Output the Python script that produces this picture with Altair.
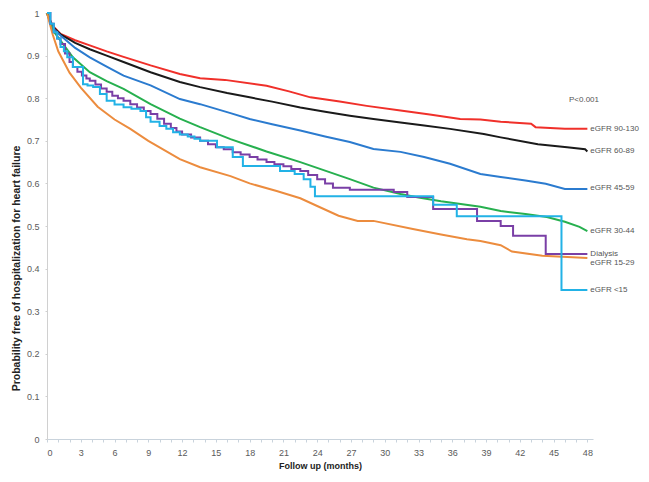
import altair as alt
import pandas as pd

# ---- data (months, survival probability) ----
series_names = ["eGFR 90-130", "eGFR 60-89", "eGFR 45-59", "eGFR 30-44",
                "eGFR 15-29", "Dialysis", "eGFR <15"]
series_colors = ["#f0302a", "#1a1a1a", "#2b7bcf", "#27b04f",
                 "#ec8c3e", "#7a3fa6", "#22b2e6"]

red_m = [0, 0.5, 1.2, 2.5, 3.8, 5.3, 6.8, 9.2, 11.8, 13.6, 15.8, 19.5, 21.5, 23.4, 26, 28.4,
         31.4, 34, 36.7, 38.5, 40.3, 43.0, 43.4, 46, 48]
red_v = [1, 0.97, 0.951, 0.936, 0.924, 0.91, 0.897, 0.877, 0.857, 0.847, 0.843, 0.829, 0.816,
         0.802, 0.792, 0.782, 0.771, 0.762, 0.751, 0.75, 0.745, 0.74, 0.732, 0.728, 0.728]

black_m = [0, 0.5, 1.2, 2.5, 3.8, 5.3, 6.8, 9.2, 11.8, 13.6, 16, 18, 20, 22.5, 24.7, 26.9, 29,
           31.4, 33.5, 35.8, 38.8, 40.3, 43.6, 46.2, 47.8, 48]
black_v = [1, 0.968, 0.95, 0.93, 0.915, 0.9, 0.885, 0.861, 0.838, 0.826, 0.812, 0.802, 0.792,
           0.778, 0.768, 0.759, 0.751, 0.743, 0.736, 0.728, 0.716, 0.708, 0.692, 0.685, 0.68, 0.675]

blue_m = [0, 0.5, 1.2, 2.5, 3.8, 5.3, 6.8, 9.2, 11.8, 13.6, 16.3, 18, 20, 22.5, 24.7, 26.9,
          29, 31.4, 33.5, 35.8, 38.5, 40.3, 42.5, 44.3, 46, 48]
blue_v = [1, 0.965, 0.947, 0.918, 0.896, 0.874, 0.853, 0.83, 0.798, 0.786, 0.765, 0.751, 0.739,
          0.724, 0.71, 0.697, 0.681, 0.674, 0.662, 0.646, 0.622, 0.615, 0.607, 0.599, 0.587, 0.587]

green_m = [0, 0.5, 1.2, 2.3, 3.8, 5.3, 6.8, 9.2, 11.8, 13.6, 16.3, 19.5, 22.5, 24.7, 26.9, 29,
           31.4, 33, 35, 38.5, 40.3, 42.5, 44.4, 46, 47.3, 48]
green_v = [1, 0.96, 0.935, 0.896, 0.861, 0.84, 0.822, 0.786, 0.752, 0.732, 0.704, 0.675, 0.65,
           0.63, 0.61, 0.59, 0.575, 0.567, 0.558, 0.545, 0.535, 0.528, 0.521, 0.51, 0.498, 0.488]

orange_m = [0, 0.5, 1, 2, 3, 4.5, 6, 7.4, 9, 11.8, 13.6, 16.3, 18, 20.4, 22.5, 24, 25.9, 27.6,
            29, 32.5, 35, 37.3, 38.5, 40.3, 41.3, 44, 48]
orange_v = [1, 0.95, 0.91, 0.86, 0.825, 0.78, 0.75, 0.728, 0.7, 0.657, 0.638, 0.617, 0.6,
            0.582, 0.565, 0.547, 0.524, 0.512, 0.512, 0.493, 0.48, 0.469, 0.465, 0.455, 0.44,
            0.43, 0.425]

dial_m = [0, 0.3, 0.6, 0.9, 1.2, 1.6, 2.0, 2.3, 2.7, 3.1, 3.5, 3.8, 4.3, 4.8, 5.3, 5.8, 6.3,
          6.8, 7.4, 8, 8.6, 9.2, 9.8, 10.4, 11, 11.5, 12, 12.8, 13.6, 14.3, 15, 15.7, 16.5,
          17.2, 18, 18.7, 19.5, 20.2, 21, 21.7, 22.5, 23.2, 24, 24.7, 25.4, 26.9, 30.8, 32,
          34.3, 38.2, 40.3, 41.4, 44.3, 48]
dial_v = [1, 0.975, 0.955, 0.94, 0.927, 0.905, 0.885, 0.873, 0.862, 0.853, 0.846, 0.841,
          0.832, 0.823, 0.815, 0.806, 0.8, 0.794, 0.786, 0.778, 0.77, 0.763, 0.752, 0.74,
          0.73, 0.722, 0.715, 0.708, 0.7, 0.692, 0.685, 0.68, 0.673, 0.668, 0.662, 0.656,
          0.65, 0.645, 0.64, 0.634, 0.629, 0.62, 0.61, 0.6, 0.59, 0.585, 0.58, 0.568, 0.54,
          0.512, 0.5, 0.477, 0.434, 0.434]

lt15_m = [0, 0.3, 0.6, 0.9, 1.2, 1.5, 1.8, 2.3, 3.2, 3.6, 4.1, 4.7, 5.3, 6, 6.8, 7.5, 8.3,
          8.8, 9.2, 10, 10.6, 11.2, 11.8, 12.5, 13.1, 13.6, 15.1, 16.5, 17.4, 20.7, 22, 22.8,
          23.4, 23.8, 34.3, 36.4, 45.7, 48]
lt15_v = [1, 0.975, 0.955, 0.94, 0.92, 0.91, 0.896, 0.873, 0.833, 0.83, 0.826, 0.81, 0.794,
          0.785, 0.779, 0.775, 0.77, 0.755, 0.745, 0.735, 0.728, 0.72, 0.715, 0.71, 0.705,
          0.7, 0.685, 0.662, 0.641, 0.629, 0.622, 0.61, 0.592, 0.57, 0.55, 0.523, 0.35, 0.35]

label_text = ["eGFR 90-130", "eGFR 60-89", "eGFR 45-59", "eGFR 30-44",
              "Dialysis", "eGFR 15-29", "eGFR <15", "P<0.001"]
label_month = [48, 48, 48, 48, 48, 48, 48, 46.1]
label_value = [0.728, 0.676, 0.589, 0.488, 0.434, 0.413, 0.35, 0.796]

x_ticks = list(range(0, 49))
y_ticks = [0, 0.1, 0.2, 0.3, 0.4, 0.5, 0.6, 0.7, 0.8, 0.9, 1]

# ---- build tables ----
smooth_sets = [("eGFR 90-130", red_m, red_v), ("eGFR 60-89", black_m, black_v),
               ("eGFR 45-59", blue_m, blue_v), ("eGFR 30-44", green_m, green_v),
               ("eGFR 15-29", orange_m, orange_v)]
step_sets = [("Dialysis", dial_m, dial_v), ("eGFR <15", lt15_m, lt15_v)]

def table(sets):
    rows = []
    for name, ms, vs in sets:
        for m, v in zip(ms, vs):
            rows.append({"series": name, "month": m, "prob": v})
    return pd.DataFrame(rows)

smooth_df = table(smooth_sets)
step_df = table(step_sets)
labels_df = pd.DataFrame({"text": label_text, "month": label_month, "prob": label_value})

FONT = "Liberation Sans"

x_scale = alt.Scale(domain=[0, 48.5], nice=False, zero=False)
y_scale = alt.Scale(domain=[0, 1], nice=False)
color_scale = alt.Scale(domain=series_names, range=series_colors)

x_axis = alt.Axis(values=x_ticks, title="Follow up (months)",
                  labelExpr="datum.value % 3 == 0 ? datum.label : ''",
                  labelOverlap=False, tickCount=49,
                  grid=False, domainColor="#c9d3dc", tickColor="#c9d3dc",
                  tickSize=3, labelColor="#5a5a5a", labelFontSize=9,
                  labelFont=FONT, labelPadding=6, titleFont=FONT,
                  titleFontSize=9, titleFontWeight="bold", titleColor="#222",
                  titlePadding=4)
y_axis = alt.Axis(values=y_ticks, format="~g",
                  title="Probability free of hospitalization for heart failure",
                  labelOverlap=False,
                  grid=False, domainColor="#d0d0d0", tickColor="#d0d0d0",
                  tickSize=2, labelColor="#5a5a5a", labelFontSize=9,
                  labelFont=FONT, labelPadding=6, titleFont=FONT,
                  titleFontSize=10.5, titleFontWeight="bold", titleColor="#222",
                  titleX=-26, titleY=255)

def xe():
    return alt.X("month:Q", scale=x_scale, axis=x_axis)

def ye():
    return alt.Y("prob:Q", scale=y_scale, axis=y_axis)

smooth = alt.Chart(smooth_df).mark_line(strokeWidth=2, interpolate="linear").encode(
    x=xe(), y=ye(),
    color=alt.Color("series:N", scale=color_scale, legend=None),
    detail="series:N")

steps = alt.Chart(step_df).mark_line(strokeWidth=2, interpolate="step-after").encode(
    x=xe(), y=ye(),
    color=alt.Color("series:N", scale=color_scale, legend=None),
    detail="series:N")

labels = alt.Chart(labels_df).mark_text(align="left", baseline="middle", dx=3,
                                         font=FONT, fontSize=8, color="#555").encode(
    x=xe(), y=ye(), text="text:N")

chart = alt.layer(smooth, steps, labels).properties(
    width=546, height=426,
    autosize=alt.AutoSizeParams(type="none"),
    padding={"left": 39, "top": 5, "right": 48, "bottom": 34},
).configure_view(stroke=None)

chart.save("out.html", embed_options={"renderer": "svg", "actions": False})
